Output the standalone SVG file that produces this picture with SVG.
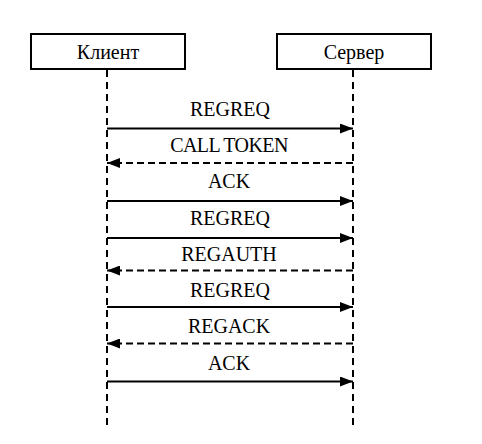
<svg xmlns="http://www.w3.org/2000/svg" width="482" height="444" viewBox="0 0 482 444">
<style>
.box{fill:#fff;stroke:#000;stroke-width:2}
.life{stroke:#000;stroke-width:2;stroke-dasharray:7 5;fill:none}
.msg{stroke:#000;stroke-width:2;fill:none}
.dash{stroke-dasharray:7 4}
.t{font-family:'Liberation Serif','Times New Roman',serif;font-size:20px;fill:#000;text-anchor:middle}
</style>
<defs>
<marker id="ah" viewBox="0 0 13 10" refX="13" refY="5" markerWidth="13" markerHeight="10" markerUnits="userSpaceOnUse" orient="auto">
<path d="M0,0 L13,5 L0,10 Z" fill="#000"/>
</marker>
</defs>
<rect width="482" height="444" fill="#fff"/>
<g id="client">
<rect class="box" x="31" y="34" width="154" height="35"/>
<text class="t" x="108" y="59">Клиент</text>
</g>
<g id="server">
<rect class="box" x="277" y="34" width="154" height="35"/>
<text class="t" x="354" y="59">Сервер</text>
</g>
<g id="lifelines">
<line class="life" x1="107" y1="70" x2="107" y2="425"/>
<line class="life" x1="353" y1="70" x2="353" y2="425"/>
</g>
<g id="connectors">
<line class="msg" x1="107" y1="128.5" x2="353" y2="128.5" marker-end="url(#ah)"/>
<line class="msg dash" x1="353" y1="163" x2="107" y2="163" marker-end="url(#ah)"/>
<line class="msg" x1="107" y1="201" x2="353" y2="201" marker-end="url(#ah)"/>
<line class="msg" x1="107" y1="238" x2="353" y2="238" marker-end="url(#ah)"/>
<line class="msg dash" x1="353" y1="270.5" x2="107" y2="270.5" marker-end="url(#ah)"/>
<line class="msg" x1="107" y1="307" x2="353" y2="307" marker-end="url(#ah)"/>
<line class="msg dash" x1="353" y1="343.5" x2="107" y2="343.5" marker-end="url(#ah)"/>
<line class="msg" x1="107" y1="381.5" x2="353" y2="381.5" marker-end="url(#ah)"/>
<text class="t" x="230" y="116">REGREQ</text>
<text class="t" x="229" y="152" letter-spacing="-0.6">CALL TOKEN</text>
<text class="t" x="229" y="188">ACK</text>
<text class="t" x="230" y="225">REGREQ</text>
<text class="t" x="229" y="261">REGAUTH</text>
<text class="t" x="230" y="297">REGREQ</text>
<text class="t" x="229" y="333">REGACK</text>
<text class="t" x="229" y="370">ACK</text>
</g>
</svg>
